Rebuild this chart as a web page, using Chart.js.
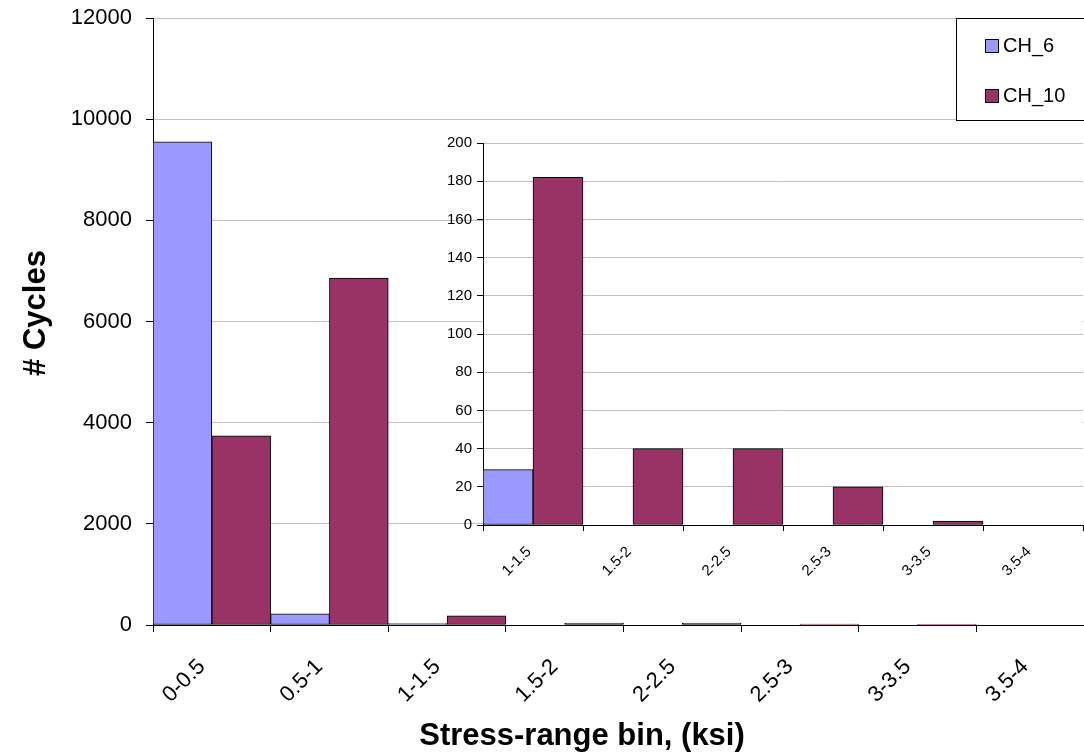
<!DOCTYPE html>
<html lang="en">
<head>
  <meta charset="UTF-8">
  <title>Stress-range histogram</title>
  <style>
    html, body {
      margin: 0;
      padding: 0;
      background: #fff;
      overflow: hidden;
    }
    #wrap {
      position: relative;
      width: 1084px;
      height: 753px;
      overflow: hidden;
    }
    #mainBox {
      position: absolute;
      left: 0;
      top: 0;
      width: 1100px;
      height: 753px;
    }
    #insetBox {
      position: absolute;
      left: 420px;
      top: 125px;
      width: 680px;
      height: 490px;
    }
  </style>
</head>
<body>
  <div id="wrap">
    <div id="mainBox"><canvas id="mainChart"></canvas></div>
    <div id="insetBox"><canvas id="insetChart"></canvas></div>
  </div>

  <script src="https://cdn.jsdelivr.net/npm/chart.js"></script>
  <script>
    // data
    const bins = ['0-0.5', '0.5-1', '1-1.5', '1.5-2', '2-2.5', '2.5-3', '3-3.5', '3.5-4'];
    const ch6 = [9550, 220, 29, 0, 0, 0, 0, 0];
    const ch10 = [3740, 6860, 182, 40, 40, 20, 2, 0];
    const insetFrom = 2; // the small chart starts at 1-1.5
    const mainMax = 12000, mainStep = 2000;
    const insetMax = 200, insetStep = 20;
    const xTitle = 'Stress-range bin, (ksi)';
    const yTitle = '# Cycles';

    const blue = '#9999FF';
    const wine = '#993366';
    const gridGrey = '#c0c0c0';
    const fontFamily = "'Liberation Sans', Arial, sans-serif";

    Chart.defaults.font.family = fontFamily;
    Chart.defaults.color = '#000';

    // little legend box in the top right corner
    const legendBox = {
      id: 'legendBox',
      afterDraw(chart) {
        const ctx = chart.ctx;
        const x = 956, y = 18, w = 160, h = 102;
        ctx.save();
        ctx.fillStyle = '#fff';
        ctx.fillRect(x, y, w, h);
        ctx.strokeStyle = '#000';
        ctx.lineWidth = 1;
        ctx.strokeRect(x + 0.5, y + 0.5, w, h);
        ctx.font = '20px ' + fontFamily;
        ctx.textBaseline = 'middle';
        chart.data.datasets.forEach((ds, i) => {
          const cy = y + 27 + i * 50;
          ctx.fillStyle = ds.backgroundColor;
          ctx.fillRect(x + 29, cy - 6, 13, 13);
          ctx.strokeRect(x + 29.5, cy - 5.5, 13, 13);
          ctx.fillStyle = '#000';
          ctx.fillText(ds.label, x + 47, cy + 1);
        });
        ctx.restore();
      }
    };

    // axis titles are not centred on the plot in the original, so draw them here
    const axisTitles = {
      id: 'axisTitles',
      afterDraw(chart) {
        const ctx = chart.ctx;
        ctx.save();
        ctx.font = 'bold 31px ' + fontFamily;
        ctx.fillStyle = '#000';
        ctx.textAlign = 'center';
        ctx.textBaseline = 'alphabetic';
        ctx.fillText(xTitle, 582, 745);
        ctx.translate(36, 313);
        ctx.rotate(-Math.PI / 2);
        ctx.textBaseline = 'middle';
        ctx.fillText(yTitle, 0, 0);
        ctx.restore();
      }
    };

    // white plot area so the big chart's grid does not show through
    const whitePlot = {
      id: 'whitePlot',
      beforeDraw(chart) {
        const a = chart.chartArea;
        const ctx = chart.ctx;
        ctx.save();
        ctx.fillStyle = '#fff';
        ctx.fillRect(a.left, a.top, a.right - a.left, a.bottom - a.top);
        ctx.restore();
      }
    };

    function bars(label, data, color) {
      return {
        label: label,
        data: data,
        backgroundColor: color,
        borderColor: '#000',
        borderWidth: 1,
        borderSkipped: false,
        barPercentage: 1,
        categoryPercentage: 1
      };
    }

    const plain = v => String(v);

    // fixed axis boxes, no extra room for overhanging labels
    function fixSize(w, h) {
      return s => {
        if (w) s.width = w;
        if (h) s.height = h;
        s.paddingTop = 0;
        s.paddingBottom = 0;
        s.paddingLeft = 0;
        s.paddingRight = 0;
      };
    }

    new Chart(document.getElementById('mainChart'), {
      type: 'bar',
      data: {
        labels: bins,
        datasets: [bars('CH_6', ch6, blue), bars('CH_10', ch10, wine)]
      },
      options: {
        responsive: true,
        maintainAspectRatio: false,
        animation: false,
        layout: { padding: { left: 0, top: 18, right: 6, bottom: 0 } },
        plugins: { legend: { display: false }, tooltip: { enabled: false } },
        scales: {
          x: {
            grid: { drawOnChartArea: false, drawTicks: true, tickLength: 7, color: '#000' },
            border: { color: '#000' },
            ticks: { minRotation: 45, maxRotation: 45, padding: 22, labelOffset: -10, font: { size: 22 } },
            afterFit: fixSize(0, 128)
          },
          y: {
            min: 0,
            max: mainMax,
            ticks: { stepSize: mainStep, padding: 14, font: { size: 22 }, callback: plain },
            grid: { color: gridGrey, tickColor: '#000', tickLength: 7 },
            border: { color: '#000' },
            afterFit: fixSize(153, 0)
          }
        }
      },
      plugins: [legendBox, axisTitles]
    });

    new Chart(document.getElementById('insetChart'), {
      type: 'bar',
      data: {
        labels: bins.slice(insetFrom),
        datasets: [
          bars('CH_6', ch6.slice(insetFrom), blue),
          bars('CH_10', ch10.slice(insetFrom), wine)
        ]
      },
      options: {
        responsive: true,
        maintainAspectRatio: false,
        animation: false,
        layout: { padding: { left: 0, top: 18, right: 17, bottom: 0 } },
        plugins: { legend: { display: false }, tooltip: { enabled: false } },
        scales: {
          x: {
            grid: { drawOnChartArea: false, drawTicks: true, tickLength: 6, color: '#000' },
            border: { color: '#000' },
            ticks: { minRotation: 45, maxRotation: 45, padding: 12, labelOffset: -4, font: { size: 15 } },
            afterFit: fixSize(0, 90)
          },
          y: {
            min: 0,
            max: insetMax,
            ticks: { stepSize: insetStep, padding: 5, font: { size: 15 }, callback: plain },
            grid: { color: gridGrey, tickColor: '#000', tickLength: 6 },
            border: { color: '#000' },
            afterFit: fixSize(63, 0)
          }
        }
      },
      plugins: [whitePlot]
    });
  </script>
</body>
</html>
